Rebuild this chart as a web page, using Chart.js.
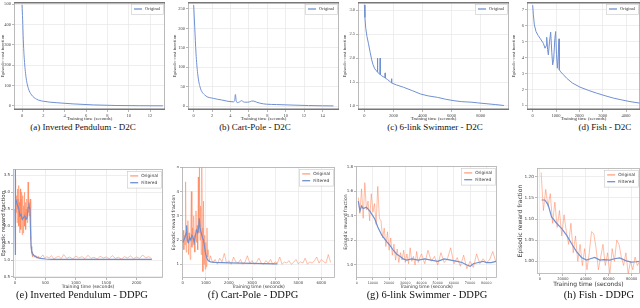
<!DOCTYPE html>
<html>
<head>
<meta charset="utf-8">
<script src="https://cdn.jsdelivr.net/npm/chart.js@4.4.0/dist/chart.umd.min.js"></script>
<style>
body { margin: 0; background: #fff; width: 640px; height: 308px; overflow: hidden; position: relative; }
canvas { position: absolute; }
.cap { position: absolute; font-family: "Liberation Serif", serif; color: #111; white-space: nowrap; transform: translateX(-50%); line-height: 1; }
.top { font-size: 9px; top: 123px; }
.bot { font-size: 10.5px; top: 290px; }
</style>
</head>
<body>
<canvas id="ca"></canvas>
<canvas id="cb"></canvas>
<canvas id="cc"></canvas>
<canvas id="cd"></canvas>
<canvas id="ce"></canvas>
<canvas id="cf"></canvas>
<canvas id="cg"></canvas>
<canvas id="ch"></canvas>
<div class="cap top" style="left:83px">(a) Inverted Pendulum - D2C</div>
<div class="cap top" style="left:255px">(b) Cart-Pole - D2C</div>
<div class="cap top" style="left:435px">(c) 6-link Swimmer - D2C</div>
<div class="cap top" style="left:605px">(d) Fish - D2C</div>
<div class="cap bot" style="left:82px">(e) Inverted Pendulum - DDPG</div>
<div class="cap bot" style="left:253px">(f) Cart-Pole - DDPG</div>
<div class="cap bot" style="left:427px">(g) 6-link Swimmer - DDPG</div>
<div class="cap bot" style="left:599px">(h) Fish - DDPG</div>
<script>
// --- tick values ---
const aXTicks = [0, 2, 4, 6, 8, 10, 12];
const aYTicks = [0, 100, 200, 300, 400, 500];
const bXTicks = [0, 2, 4, 6, 8, 10, 12, 14];
const bYTicks = [0, 50, 100, 150, 200, 250];
const cXTicks = [0, 2000, 4000, 6000, 8000];
const cYTicks = [1.0, 1.5, 2.0, 2.5, 3.0];
const dXTicks = [0, 1000, 2000, 3000, 4000];
const dYTicks = [1, 2, 3, 4, 5, 6, 7];
const eXTicks = [0, 500, 1000, 1500, 2000];
const eYTicks = [0.5, 1.0, 1.5, 2.0, 2.5, 3.0, 3.5];
const fXTicks = [0, 1000, 2000, 3000, 4000, 5000, 6000];
const fYTicks = [1, 2, 3, 4, 5];
const gXTicks = [0, 10000, 20000, 30000, 40000, 50000, 60000, 70000, 80000];
const gYTicks = [1.0, 1.2, 1.4, 1.6, 1.8];
const hXTicks = [0, 20000, 40000, 60000, 80000];
const hYTicks = [1.00, 1.05, 1.10, 1.15, 1.20];

// --- D2C curves (top row) ---
const aX = [0, 0.06, 0.12, 0.22, 0.37, 0.59, 0.9, 1.37, 2.0, 3.2, 4.8, 6.7, 8.9, 11, 13.2];
const aY = [497, 424, 325, 227, 144, 87, 54, 33, 23, 16, 10, 5, 2, 1, 0.5];

const bX = [0, 0.11, 0.25, 0.43, 0.68, 1.23, 2.13, 3.0, 3.6, 4.3, 4.45, 4.53, 4.62, 4.74, 5.0, 5.2, 5.4, 5.6, 6.1, 6.3, 6.5, 6.85, 7.3, 7.9, 9.0, 10.8, 12.5, 14.0, 15.2];
const bY = [260, 204, 136, 84, 50, 28, 20, 16, 13, 11, 14, 30, 14, 9, 11, 14, 11, 10, 11, 13, 13, 10, 7, 5, 4, 2.6, 1.5, 0.9, 0.6];

const cX = [0, 40, 97, 180, 277, 400, 508, 600, 693, 800, 880, 900, 920, 980, 1060, 1085, 1110, 1200, 1350, 1410, 1430, 1450, 1600, 1800, 1840, 1860, 1900, 2200, 2700, 3300, 3860, 4400, 5020, 5600, 6170, 6700, 7330, 7800, 8300, 9000, 9600];
const cY = [3.11, 2.85, 2.62, 2.45, 2.31, 2.12, 1.96, 1.86, 1.79, 1.74, 1.72, 2.0, 1.71, 1.68, 1.66, 2.0, 1.65, 1.63, 1.60, 1.59, 1.69, 1.58, 1.55, 1.50, 1.49, 1.57, 1.48, 1.44, 1.39, 1.32, 1.25, 1.21, 1.18, 1.14, 1.11, 1.09, 1.08, 1.065, 1.05, 1.03, 1.01];

const dX = [0, 29, 71, 143, 230, 314, 457, 528, 580, 600, 640, 671, 720, 771, 820, 857, 900, 950, 985, 1020, 1057, 1090, 1128, 1142, 1200, 1300, 1457, 1700, 2028, 2400, 2743, 3100, 3457, 3800, 4171, 4600];
const dY = [7.3, 6.69, 6.06, 5.64, 5.4, 5.22, 4.9, 4.59, 4.75, 5.28, 4.5, 4.17, 5.0, 5.6, 4.3, 3.54, 3.9, 5.2, 5.64, 4.2, 3.33, 4.0, 5.18, 3.23, 3.1, 2.95, 2.7, 2.4, 2.14, 1.93, 1.76, 1.6, 1.45, 1.34, 1.23, 1.13];

// --- DDPG curves (bottom row) ---
const eOrigX = [0, 5, 10, 16, 22, 28, 34, 40, 46, 52, 58, 64, 70, 76, 82, 88, 94, 100, 106, 112, 118, 124, 130, 136, 142, 148, 154, 160, 166, 172, 178, 184, 190, 196, 202, 208, 214, 220, 226, 232, 238, 244, 250, 256, 262, 268, 274, 280, 286, 292,
  300, 320, 340, 360, 380, 400, 430, 460, 490, 520, 560, 600, 640, 680, 720, 760, 800, 850, 900, 950, 1000, 1050, 1100, 1150, 1200, 1250, 1300, 1350, 1400, 1450, 1500, 1550, 1600, 1650, 1700, 1750, 1800, 1850, 1900, 1950, 2000, 2050, 2100, 2150, 2200, 2250];
const eOrigY = [1.3, 3.4, 2.2, 3.0, 2.4, 2.9, 2.1, 3.1, 2.5, 2.8, 3.2, 2.0, 2.7, 1.8, 2.6, 3.1, 1.9, 2.8, 2.2, 3.0, 1.75, 2.5, 2.9, 1.8, 2.6, 2.2, 3.0, 2.0, 2.4, 2.7, 1.9, 2.5, 2.2, 2.8, 2.1, 2.6, 3.3, 2.4, 2.9, 2.3, 2.7, 2.5, 2.8, 2.2, 1.6, 1.3, 1.2, 1.15, 1.25, 1.1,
  1.18, 1.08, 1.14, 1.05, 1.12, 1.03, 1.09, 1.15, 1.04, 1.1, 1.06, 1.13, 1.03, 1.08, 1.11, 1.04, 1.16, 1.05, 1.09, 1.03, 1.12, 1.06, 1.1, 1.04, 1.14, 1.05, 1.08, 1.03, 1.11, 1.06, 1.09, 1.04, 1.13, 1.05, 1.08, 1.03, 1.1, 1.06, 1.12, 1.04, 1.09, 1.05, 1.15, 1.06, 1.1, 1.04];
const eFiltX = [0, 2, 4, 7, 12, 20, 40, 60, 80, 100, 120, 140, 160, 180, 200, 215, 230, 245, 255, 265, 275, 290, 320, 360, 420, 500, 600, 800, 1000, 1400, 1800, 2250];
const eFiltY = [2.5, 3.7, 1.15, 2.9, 2.7, 2.75, 2.6, 2.55, 2.3, 2.35, 2.2, 2.25, 2.3, 2.2, 2.25, 2.55, 2.6, 2.5, 1.9, 1.4, 1.25, 1.18, 1.12, 1.08, 1.05, 1.03, 1.02, 1.02, 1.02, 1.02, 1.02, 1.02];

const fOrigX = [0, 25, 50, 75, 100, 125, 150, 175, 200, 225, 250, 275, 300, 325, 350, 375, 400, 425, 450, 475, 500, 525, 550, 575, 600, 625, 650, 675, 700, 725, 750, 775, 800, 825, 850, 875, 900, 925, 950, 975, 1000, 1025, 1050, 1075, 1100,
  1150, 1200, 1300, 1400, 1500, 1600, 1700, 1800, 1900, 2000, 2100, 2200, 2300, 2400, 2500, 2600, 2700, 2800, 2900, 3000, 3100, 3200, 3300, 3400, 3500, 3600, 3700, 3800, 3900, 4000, 4100, 4200, 4300, 4400, 4500, 4600, 4700, 4800, 4900, 5000, 5100, 5200, 5300, 5400, 5500, 5600, 5700, 5800, 5900, 6000, 6100, 6200, 6300, 6400];
const fOrigY = [1.9, 2.4, 1.6, 2.2, 1.8, 4.4, 1.5, 2.6, 1.9, 2.8, 1.4, 2.3, 2.0, 1.2, 2.7, 4.0, 1.7, 2.5, 1.8, 3.0, 2.2, 1.5, 2.4, 3.2, 1.9, 2.6, 1.6, 4.6, 2.3, 5.0, 2.0, 3.4, 1.4, 5.0, 2.5, 0.7, 3.6, 1.0, 2.2, 0.8, 1.9, 0.9, 2.5, 1.3, 1.6,
  1.1, 1.35, 1.05, 1.2, 1.0, 1.25, 1.1, 1.45, 1.05, 1.15, 1.0, 1.3, 1.1, 1.05, 1.2, 1.0, 1.1, 1.35, 1.05, 1.15, 1.0, 1.1, 1.25, 1.05, 1.0, 1.15, 1.05, 1.2, 1.0, 1.1, 1.05, 1.3, 1.0, 1.1, 1.05, 1.15, 1.0, 1.08, 1.2, 1.02, 1.1, 1.05, 1.25, 1.0, 1.1, 1.05, 1.15, 1.3, 1.05, 1.2, 1.1, 1.05, 1.4, 1.08];
const fFiltX = [0, 50, 100, 150, 170, 200, 250, 300, 350, 400, 450, 500, 550, 600, 650, 700, 720, 750, 800, 850, 900, 950, 1000, 1050, 1100, 1200, 1400, 1700, 2000, 2500, 3000, 3500, 4000, 4100];
const fFiltY = [1.9, 2.0, 2.1, 2.3, 2.6, 2.0, 1.9, 2.1, 2.0, 2.2, 2.1, 1.9, 2.2, 2.4, 2.3, 2.6, 2.9, 2.5, 2.3, 2.1, 2.0, 1.7, 1.4, 1.25, 1.15, 1.1, 1.08, 1.07, 1.06, 1.05, 1.04, 1.03, 1.02, 1.02];

const gOrigX = [1000, 2000, 3000, 4000, 5000, 6000, 7000, 8000, 9000, 10000, 11000, 12000, 13000, 14000, 15000, 16000, 17000, 18000, 19000, 20000, 21000, 22000, 23000, 24000, 25000, 26000, 27000, 28000, 29000, 30000, 31000, 32000, 33000, 34000, 35000, 36000, 37000, 38000, 39000, 40000,
  42000, 44000, 46000, 48000, 50000, 52000, 54000, 56000, 58000, 60000, 62000, 64000, 66000, 68000, 70000, 72000, 74000, 76000, 78000, 80000, 82000, 84000, 86000];
const gOrigY = [1.55, 1.42, 1.62, 1.38, 1.67, 1.45, 1.52, 1.36, 1.58, 1.43, 1.50, 1.33, 1.64, 1.38, 1.36, 1.22, 1.30, 1.15, 1.27, 1.12, 1.22, 1.08, 1.17, 1.04, 1.13, 1.02, 1.10, 1.04, 1.12, 1.02, 1.09, 1.01, 1.14, 1.03, 1.07, 1.00, 1.11, 1.02, 1.06, 1.09,
  1.01, 1.12, 1.03, 1.07, 1.00, 1.10, 1.02, 1.05, 1.14, 1.01, 1.06, 0.99, 1.08, 0.97, 1.03, 0.98, 1.09, 1.01, 1.05, 1.02, 1.04, 1.11, 1.02];
const gFiltX = [1000, 2000, 3000, 4000, 6000, 8000, 10000, 11300, 13000, 15400, 18500, 20500, 22600, 24600, 26700, 28700, 30800, 34000, 38000, 42000, 46000, 50000, 54000, 58000, 62000, 65000, 68000, 70000, 72000, 75000, 78000, 80000, 83000, 86000];
const gFiltY = [1.52, 1.44, 1.48, 1.46, 1.47, 1.44, 1.40, 1.37, 1.31, 1.245, 1.19, 1.16, 1.12, 1.09, 1.07, 1.05, 1.04, 1.05, 1.04, 1.05, 1.04, 1.03, 1.05, 1.04, 1.03, 1.02, 1.00, 0.99, 1.01, 1.02, 1.03, 1.02, 1.02, 1.03];

const hOrigX = [1000, 3000, 5000, 7000, 9000, 11000, 13000, 15000, 17000, 19000, 21000, 23000, 25000, 27000, 29000, 31000, 33000, 35000, 37000, 39000, 41000, 43000, 45000, 47000, 49000, 51000, 53000, 55000, 57000, 59000, 61000, 63000, 65000, 67000, 69000, 71000, 73000, 75000, 77000, 79000, 81000, 83000, 85000, 87000];
const hOrigY = [1.21, 1.12, 1.17, 1.13, 1.16, 1.09, 1.14, 1.08, 1.12, 1.06, 1.11, 1.07, 1.04, 1.09, 1.02, 1.06, 1.00, 1.04, 0.99, 1.03, 0.98, 1.02, 1.07, 1.065, 1.03, 0.98, 1.01, 1.04, 0.99, 1.02, 0.97, 1.03, 1.00, 1.05, 1.04, 1.01, 0.99, 1.02, 0.97, 1.00, 0.98, 1.01, 0.99, 1.00];
const hFiltX = [1450, 4300, 7200, 10100, 14500, 18800, 23200, 27500, 31900, 36200, 40600, 44000, 47800, 52200, 56000, 60900, 65000, 69600, 75400, 79700, 84000, 87000];
const hFiltY = [1.145, 1.145, 1.133, 1.105, 1.09, 1.078, 1.062, 1.042, 1.023, 1.009, 1.003, 1.006, 1.009, 1.003, 1.004, 1.003, 1.006, 1.008, 1.001, 0.998, 0.999, 1.0];

const BLUE = '#7090d2';
const ORANGE = 'rgba(255,125,80,0.72)';
const sans = '"DejaVu Sans", sans-serif';
const serif = '"Liberation Serif", serif';

function pts(xs, ys) {
    return ys.map((y, i) => ({ x: xs[i], y: y }));
}

// box around the plot area
const framePlugin = {
    id: 'frame',
    afterDraw(chart, args, o) {
        const { ctx, chartArea: a } = chart;
        ctx.save();
        ctx.strokeStyle = o.color;
        ctx.lineWidth = 0.8;
        ctx.strokeRect(a.left + 0.5, a.top + 0.5, a.right - a.left - 1, a.bottom - a.top - 1);
        if (o.heavy) {
            ctx.strokeStyle = '#777';
            ctx.lineWidth = 1.6;
            ctx.beginPath();
            ctx.moveTo(a.left, a.top + 0.8); ctx.lineTo(a.right, a.top + 0.8);
            ctx.moveTo(a.left, a.bottom - 0.8); ctx.lineTo(a.right, a.bottom - 0.8);
            ctx.stroke();
        }
        ctx.restore();
    }
};

// legend box in the top right corner of the plot area
const legendPlugin = {
    id: 'boxLegend',
    afterDraw(chart, args, o) {
        const { ctx, chartArea: a } = chart;
        const sets = chart.data.datasets;
        ctx.save();
        ctx.font = o.size + 'px ' + o.family;
        const tw = Math.max(...sets.map(d => ctx.measureText(d.label).width));
        const rowH = o.size + 2.5;
        const w = 3 + o.line + 3 + tw + 3;
        const h = sets.length * rowH + 3;
        const x = a.right - 2 - w, y = a.top + 2;
        ctx.fillStyle = 'rgba(255,255,255,0.92)';
        ctx.fillRect(x, y, w, h);
        ctx.strokeStyle = '#c8c8c8';
        ctx.lineWidth = 0.6;
        ctx.strokeRect(x + 0.5, y + 0.5, w, h);
        sets.forEach((d, i) => {
            const cy = y + 1.5 + rowH * (i + 0.5);
            ctx.strokeStyle = d.borderColor;
            ctx.lineWidth = 1.3;
            ctx.beginPath();
            ctx.moveTo(x + 3, cy); ctx.lineTo(x + 3 + o.line, cy);
            ctx.stroke();
            ctx.fillStyle = '#333';
            ctx.textBaseline = 'middle';
            ctx.fillText(d.label, x + 6 + o.line, cy);
        });
        ctx.restore();
    }
};

function build(id, o) {
    const cv = document.getElementById(id);
    cv.width = o.w;
    cv.height = o.h;
    cv.style.left = o.left + 'px';
    cv.style.top = o.top + 'px';
    const fam = o.family;
    return new Chart(cv, {
        type: 'line',
        data: { datasets: o.sets },
        options: {
            responsive: false,
            animation: false,
            layout: { padding: { top: 1, right: 0, left: 0, bottom: 0 } },
            elements: { point: { radius: 0 } },
            plugins: {
                legend: { display: false },
                tooltip: { enabled: false },
                frame: { color: o.frameColor, heavy: o.heavy },
                boxLegend: { size: o.legendSize, family: fam, line: 8 }
            },
            scales: {
                x: {
                    type: 'linear',
                    min: o.xMin, max: o.xMax,
                    afterBuildTicks: s => { s.ticks = o.xTicks.map(v => ({ value: v })); },
                    ticks: {
                        autoSkip: false, maxRotation: 0, minRotation: 0,
                        padding: 1, color: '#444', font: { family: fam, size: o.xTickSize },
                        callback: v => String(v)
                    },
                    grid: { color: '#e6e6e6', lineWidth: 0.7, tickLength: 2, tickColor: '#999' },
                    border: { display: false },
                    title: { display: true, text: 'Training time (seconds)', color: '#333', padding: 0, font: { family: fam, size: o.xTitleSize } },
                    afterFit: s => { s.height = o.xH; s.paddingLeft = 0; s.paddingRight = 0; }
                },
                y: {
                    min: o.yMin, max: o.yMax,
                    afterBuildTicks: s => { s.ticks = o.yTicks.map(v => ({ value: v })); },
                    ticks: {
                        autoSkip: false,
                        padding: 1, color: '#444', font: { family: fam, size: o.yTickSize },
                        callback: v => v.toFixed(o.yDec)
                    },
                    grid: { color: '#e6e6e6', lineWidth: 0.7, tickLength: 2, tickColor: '#999' },
                    border: { display: false },
                    title: { display: true, text: o.yTitle, color: '#333', padding: 0, font: { family: fam, size: o.yTitleSize } },
                    afterFit: s => { s.width = o.yW; s.paddingTop = 0; s.paddingBottom = 0; }
                }
            }
        },
        plugins: [framePlugin, legendPlugin]
    });
}

function d2c(xs, ys, smooth) {
    return [{ label: 'Original', data: pts(xs, ys), borderColor: BLUE, borderWidth: 1, cubicInterpolationMode: smooth ? 'monotone' : 'default', tension: 0 }];
}
function ddpg(ox, oy, fx, fy) {
    return [
        { label: 'Original', data: pts(ox, oy), borderColor: ORANGE, borderWidth: 0.7, tension: 0, order: 1 },
        { label: 'Filtered', data: pts(fx, fy), borderColor: BLUE, borderWidth: 1.2, tension: 0, order: 0 }
    ];
}

const topRow = { top: 1, h: 121, xH: 12, family: serif, frameColor: '#aaa', heavy: true, xTickSize: 4.5, yTickSize: 4.5, xTitleSize: 4.8, yTitleSize: 4.8, legendSize: 4.5, yTitle: 'Episodic cost function' };
const botRow = { family: sans, frameColor: '#b0b0b0', heavy: false, xTickSize: 3.8, yTickSize: 4, xTitleSize: 4.5, yTitleSize: 4.6, legendSize: 4.3, yTitle: 'Episodic reward fraction' };

build('ca', Object.assign({}, topRow, { left: 0, w: 165, yW: 14, xMin: -0.75, xMax: 13.4, xTicks: aXTicks, yMin: -20, yMax: 511, yTicks: aYTicks, yDec: 0, sets: d2c(aX, aY, true) }));
build('cb', Object.assign({}, topRow, { left: 172, w: 167, yW: 16, xMin: -0.62, xMax: 15.8, xTicks: bXTicks, yMin: -10, yMax: 268, yTicks: bYTicks, yDec: 0, sets: d2c(bX, bY, true) }));
build('cc', Object.assign({}, topRow, { left: 342, w: 167, yW: 16, xMin: -437, xMax: 9950, xTicks: cXTicks, yMin: 0.916, yMax: 3.17, yTicks: cYTicks, yDec: 1, sets: d2c(cX, cY, false) }));
build('cd', Object.assign({}, topRow, { left: 511, w: 129, yW: 16, xMin: -244, xMax: 4600, xTicks: dXTicks, yMin: 0.7, yMax: 7.5, yTicks: dYTicks, yDec: 0, sets: d2c(dX, dY, false) }));

build('ce', Object.assign({}, botRow, { left: 0, top: 168, w: 163, h: 122, yW: 13, xH: 12, yTitleSize: 5.4, xMin: -33, xMax: 2434, xTicks: eXTicks, yMin: 0.47, yMax: 3.686, yTicks: eYTicks, yDec: 1, sets: ddpg(eOrigX, eOrigY, eFiltX, eFiltY) }));
build('cf', Object.assign({}, botRow, { left: 171, top: 166, w: 164, h: 124, yW: 11, xH: 12, xMin: -30, xMax: 6590, xTicks: fXTicks, yMin: 0.435, yMax: 5.01, yTicks: fYTicks, yDec: 0, sets: ddpg(fOrigX, fOrigY, fFiltX, fFiltY) }));
build('cg', Object.assign({}, botRow, { left: 343, top: 165, w: 154, h: 125, yW: 13, xH: 12, xTickSize: 3.3, xMin: -430, xMax: 86600, xTicks: gXTicks, yMin: 0.894, yMax: 1.806, yTicks: gYTicks, yDec: 1, sets: ddpg(gOrigX, gOrigY, gFiltX, gFiltY) }));
build('ch', Object.assign({}, botRow, { left: 517, top: 167, w: 123, h: 121, yW: 20, xH: 14, xTickSize: 3.6, yTickSize: 4.3, xTitleSize: 6, yTitleSize: 6, xMin: -2600, xMax: 87300, xTicks: hXTicks, yMin: 0.97, yMax: 1.2206, yTicks: hYTicks, yDec: 2, sets: ddpg(hOrigX, hOrigY, hFiltX, hFiltY) }));
</script>
</body>
</html>
